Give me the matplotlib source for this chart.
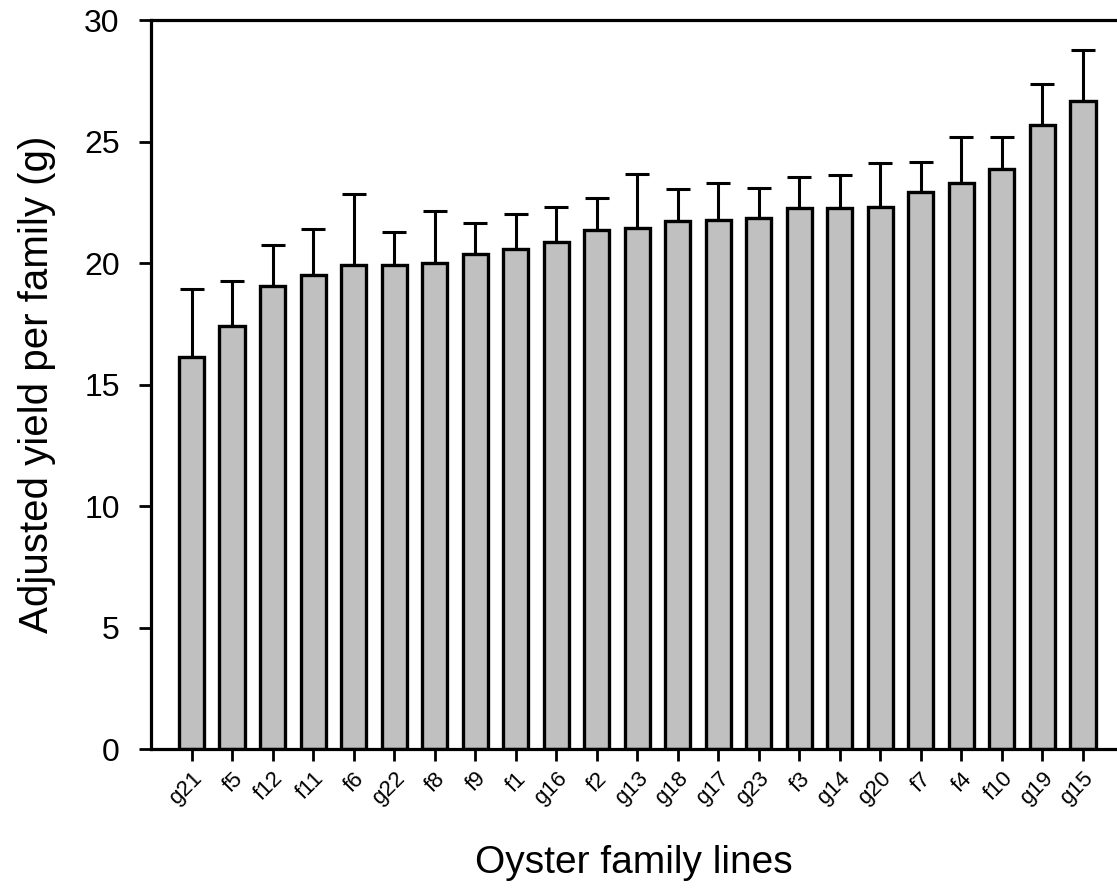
import numpy as np
import matplotlib
matplotlib.use("Agg")
import matplotlib.pyplot as plt

plt.rcParams['font.family'] = ['Liberation Sans', 'DejaVu Sans']

# family lines, sorted by mean yield
families = ["g21", "f5", "f12", "f11", "f6", "g22", "f8", "f9", "f1", "g16", "f2",
            "g13", "g18", "g17", "g23", "f3", "g14", "g20", "f7", "f4", "f10", "g19", "g15"]
yield_mean = [16.15, 17.41, 19.07, 19.51, 19.91, 19.91, 19.99, 20.36, 20.59, 20.86, 21.36,
              21.44, 21.75, 21.79, 21.86, 22.27, 22.27, 22.30, 22.91, 23.31, 23.86, 25.69, 26.68]
yield_err = [2.78, 1.86, 1.67, 1.91, 2.93, 1.36, 2.17, 1.30, 1.43, 1.45, 1.32,
             2.23, 1.30, 1.49, 1.23, 1.26, 1.35, 1.80, 1.26, 1.89, 1.33, 1.68, 2.09]
y_ticks = [0, 5, 10, 15, 20, 25, 30]


def plot_yield():
    fig = plt.figure(figsize=(11.17, 8.90), dpi=100)
    ax = fig.add_axes([0.1352, 0.1581, 0.8648, 0.8194])

    x = np.arange(len(families))
    ax.bar(x, yield_mean, width=0.62, color="#c0c0c0", edgecolor="black",
           linewidth=2.4, zorder=2)
    ax.errorbar(x, yield_mean, yerr=[np.zeros(len(x)), yield_err], fmt="none",
                ecolor="black", elinewidth=2.2, capsize=8.6, capthick=2.2, zorder=1)

    ax.set_xlim(-1.0, len(families) - 1 + 0.84)
    ax.set_ylim(0, 30)
    ax.set_yticks(y_ticks)
    ax.set_xticks(x)
    ax.set_xticklabels(families, rotation=45, ha="right", rotation_mode="anchor",
                       fontsize=16)

    for side in ["left", "bottom", "top"]:
        ax.spines[side].set_linewidth(2.3)
    ax.spines["right"].set_visible(False)

    ax.tick_params(axis="y", direction="out", length=8.5, width=2.0, labelsize=23, pad=14)
    ax.tick_params(axis="x", direction="out", length=8.5, width=2.0, pad=5)

    ax.set_xlabel("Oyster family lines", fontsize=28, labelpad=26)
    ax.set_ylabel("Adjusted yield per family (g)", fontsize=29, labelpad=20)

    fig.savefig("out.png", dpi=100)
    plt.close(fig)


if __name__ == "__main__":
    plot_yield()
